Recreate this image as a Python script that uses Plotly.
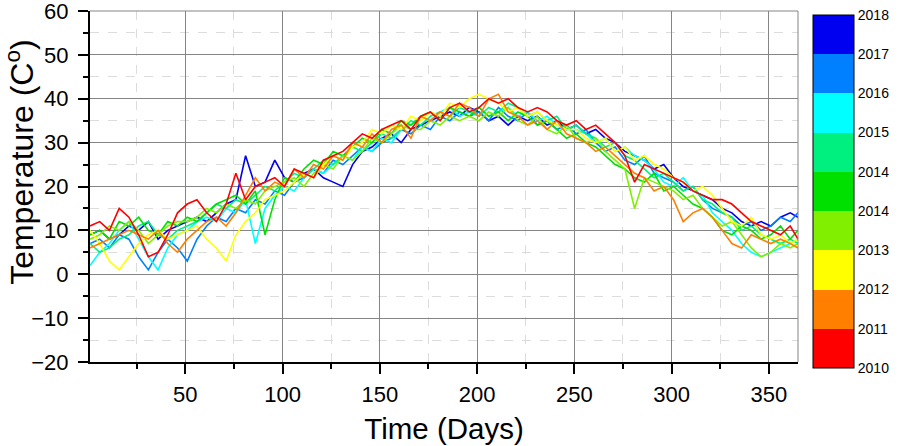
import plotly.graph_objects as go

# day of year for every sampled point
days = list(range(1, 362, 5)) + [365]

years = ["2010", "2011", "2012", "2013", "2014", "2015", "2016", "2017", "2018"]
colorbar_labels = ["2010", "2011", "2012", "2013", "2014", "2014", "2015", "2016", "2017", "2018"]
colors = ["#FF0000", "#FF8000", "#FFFF00", "#80F000", "#00E000",
          "#00F080", "#00FFFF", "#0080FF", "#0000F0"]

t2010 = [11, 12, 10, 15, 13, 9, 4, 5, 9, 14,
         16, 17, 14, 12, 16, 23, 17, 20, 21, 22,
         20, 24, 23, 22, 26, 27, 28, 30, 32, 31,
         33, 34, 35, 33, 36, 37, 35, 38, 39, 37,
         38, 40, 39, 40, 38, 37, 38, 37, 35, 34,
         35, 33, 34, 32, 30, 27, 21, 25, 24, 23,
         22, 21, 19, 18, 17, 17, 16, 14, 12, 11,
         10, 9, 11, 8]
t2011 = [6, 7, 8, 9, 10, 9, 8, 10, 7, 5,
         8, 10, 12, 13, 11, 14, 18, 22, 19, 21,
         20, 24, 22, 25, 24, 27, 26, 30, 29, 32,
         30, 33, 34, 31, 36, 35, 37, 36, 39, 38,
         36, 40, 41, 37, 36, 34, 35, 33, 35, 32,
         31, 30, 28, 29, 27, 25, 23, 22, 19, 20,
         17, 12, 14, 15, 13, 10, 7, 6, 9, 8,
         7, 8, 7, 6]
t2012 = [10, 7, 3, 1, 4, 7, 9, 10, 8, 9,
         10, 11, 8, 6, 3, 9, 12, 14, 17, 18,
         19, 21, 23, 22, 25, 27, 26, 29, 30, 33,
         32, 34, 33, 36, 35, 37, 36, 39, 38, 40,
         41, 40, 39, 37, 38, 36, 37, 35, 34, 33,
         33, 31, 30, 31, 28, 29, 26, 27, 25, 24,
         22, 21, 19, 20, 18, 15, 12, 11, 13, 9,
         8, 9, 7, 8]
t2013 = [8, 9, 11, 10, 12, 10, 7, 9, 11, 12,
         12, 13, 15, 14, 16, 15, 17, 16, 19, 20,
         21, 22, 20, 23, 25, 24, 27, 26, 28, 31,
         30, 32, 34, 33, 33, 35, 34, 36, 35, 36,
         35, 37, 36, 38, 35, 34, 36, 33, 32, 34,
         31, 30, 31, 28, 26, 24, 15, 22, 21, 20,
         19, 17, 18, 15, 13, 11, 12, 9, 6, 4,
         5, 7, 6, 7]
t2014 = [9, 10, 8, 12, 11, 13, 10, 9, 12, 11,
         13, 12, 14, 16, 17, 18, 16, 19, 9, 17,
         22, 21, 24, 26, 25, 28, 27, 29, 31, 30,
         33, 32, 35, 34, 36, 37, 35, 38, 37, 36,
         38, 36, 37, 35, 37, 36, 34, 35, 33, 31,
         32, 30, 29, 27, 25, 24, 22, 21, 23, 19,
         20, 18, 16, 15, 13, 10, 9, 11, 10, 8,
         9, 11, 8, 10]
t2015 = [7, 5, 6, 8, 9, 11, 12, 9, 8, 10,
         11, 12, 14, 16, 15, 17, 16, 18, 20, 19,
         21, 23, 22, 24, 26, 25, 27, 29, 28, 30,
         32, 31, 33, 35, 34, 36, 37, 36, 38, 37,
         36, 38, 37, 39, 38, 36, 37, 35, 36, 33,
         34, 32, 31, 29, 30, 27, 26, 24, 22, 23,
         21, 19, 20, 17, 16, 14, 13, 10, 11, 9,
         8, 7, 8, 7]
t2016 = [2, 5, 7, 10, 12, 8, 4, 1, 6, 9,
         10, 12, 13, 12, 15, 14, 17, 7, 15, 18,
         20, 19, 22, 24, 23, 25, 27, 26, 29, 28,
         31, 30, 33, 34, 36, 35, 37, 38, 36, 37,
         38, 36, 37, 38, 36, 37, 35, 36, 34, 33,
         33, 32, 30, 31, 28, 29, 27, 26, 24, 21,
         20, 22, 19, 18, 14, 12, 10, 7, 5, 4,
         5, 6, 7, 8]
t2017 = [7, 8, 6, 9, 8, 4, 1, 5, 8, 6,
         3, 8, 11, 13, 12, 15, 14, 17, 16, 19,
         18, 21, 22, 24, 23, 26, 25, 27, 29, 28,
         30, 31, 33, 32, 34, 33, 36, 35, 37, 36,
         37, 35, 38, 36, 35, 37, 34, 35, 33, 34,
         32, 33, 30, 28, 29, 26, 25, 27, 23, 22,
         21, 19, 20, 17, 15, 14, 13, 11, 12, 10,
         11, 13, 12, 14]
t2018 = [9, 10, 8, 9, 11, 10, 12, 8, 10, 11,
         12, 13, 12, 14, 16, 17, 27, 20, 21, 26,
         22, 21, 23, 24, 22, 21, 20, 25, 28, 29,
         31, 32, 30, 33, 34, 35, 36, 37, 36, 38,
         37, 35, 36, 34, 36, 35, 36, 34, 35, 33,
         34, 32, 33, 31, 30, 28, 27, 26, 24, 25,
         22, 20, 19, 18, 17, 15, 14, 12, 11, 12,
         11, 13, 14, 13]

series = [t2010, t2011, t2012, t2013, t2014, t2015, t2016, t2017, t2018]

fig = go.Figure()

# draw 2018 first so the older years sit on top, as in the original
for name, temps, col in reversed(list(zip(years, series, colors))):
    fig.add_trace(go.Scatter(x=days, y=temps, mode="lines", name=name,
                             line=dict(color=col, width=1.6), showlegend=False))

# discrete colour bar (one band per year)
n = len(colors)
scale = []
for i, c in enumerate(colors):
    scale.append([i / n, c])
    scale.append([(i + 1) / n, c])

fig.add_trace(go.Scatter(
    x=[None], y=[None], mode="markers", showlegend=False, hoverinfo="skip",
    marker=dict(
        color=[0], cmin=0, cmax=n, colorscale=scale, showscale=True,
        colorbar=dict(
            thickness=41, thicknessmode="pixels",
            len=353, lenmode="pixels",
            x=1.021, xanchor="left", xpad=0,
            y=0.486, yanchor="middle", ypad=0,
            outlinewidth=1, outlinecolor="black",
            tickvals=list(range(n + 1)), ticktext=colorbar_labels,
            ticks="", tickfont=dict(family="Liberation Sans", size=14, color="black"),
        ),
    ),
))

axis_font = dict(family="Liberation Sans", size=22, color="black")

fig.update_layout(
    width=898, height=446,
    margin=dict(l=90, r=100, t=11, b=84, autoexpand=False),
    paper_bgcolor="white", plot_bgcolor="white",
    xaxis=dict(
        range=[1, 365], tick0=0, dtick=50, automargin=False,
        showline=True, linecolor="black", linewidth=2,
        ticks="outside", ticklen=10, tickwidth=2, tickcolor="black",
        showgrid=True, gridcolor="#858585", gridwidth=1, zeroline=False,
        tickfont=axis_font, ticklabelstandoff=2,
        title=dict(text="Time (Days)", standoff=12,
                   font=dict(family="Liberation Sans", size=29.5, color="black")),
        minor=dict(dtick=25, ticks="outside", ticklen=5, tickwidth=2, tickcolor="black",
                   showgrid=True, gridcolor="#dcdcdc", griddash="dash", gridwidth=1),
    ),
    yaxis=dict(
        range=[-20, 60], tick0=0, dtick=10, automargin=False,
        showline=True, linecolor="black", linewidth=2,
        ticks="outside", ticklen=10, tickwidth=2, tickcolor="black",
        showgrid=True, gridcolor="#858585", gridwidth=1, zeroline=False,
        tickfont=axis_font, ticklabelstandoff=5, ticklabeloverflow="allow",
        minor=dict(dtick=5, ticks="outside", ticklen=5, tickwidth=2, tickcolor="black",
                   showgrid=True, gridcolor="#dcdcdc", griddash="dash", gridwidth=1),
    ),
    # y title as an annotation: in the original it sits a little above the axis middle
    annotations=[
        dict(text="Temperature (C<sup>o</sup>)", textangle=-90, showarrow=False,
             xref="paper", yref="paper", x=-0.099, y=0.57,
             xanchor="center", yanchor="middle",
             font=dict(family="Liberation Sans", size=32, color="black")),
    ],
    shapes=[
        dict(type="line", xref="paper", yref="paper", x0=1, x1=1, y0=0, y1=1,
             line=dict(color="#858585", width=1)),
        dict(type="line", xref="paper", yref="paper", x0=0, x1=1, y0=1, y1=1,
             line=dict(color="#858585", width=1)),
    ],
)

# the page body has a default 8px margin; drop it so the figure sits at the corner
fig.write_html("out.html", config={"displayModeBar": False},
               post_script="document.body.style.margin='0px';")
